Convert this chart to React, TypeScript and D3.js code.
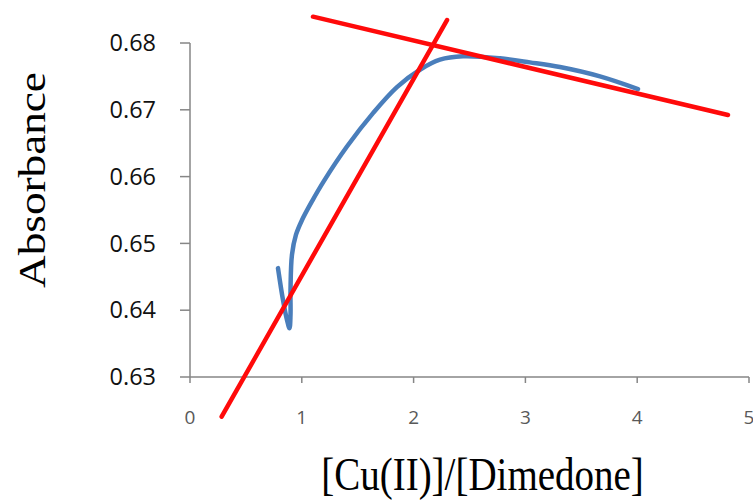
import React from "react";
import * as d3 from "d3";

const W = 753;
const H = 500;

const xTicks = [0, 1, 2, 3, 4, 5];
const yTicks = [0.63, 0.64, 0.65, 0.66, 0.67, 0.68];

// Blue measured curve: [Cu(II)]/[Dimedone] vs Absorbance
const curveX = [0.787, 0.832, 0.868, 0.89, 0.899, 0.899, 0.912, 0.948, 1.002, 1.091, 1.2, 1.404, 1.637, 1.851, 2.057, 2.236, 2.442, 2.773, 3.041, 3.309, 3.667, 4.007];
const curveY = [0.6463, 0.6415, 0.6385, 0.6373, 0.6393, 0.643, 0.6483, 0.6513, 0.6535, 0.6563, 0.6594, 0.6645, 0.6695, 0.6734, 0.676, 0.6775, 0.678, 0.6777, 0.6771, 0.6764, 0.675, 0.6731];

// Red tangent lines (endpoints)
const lineAX = [0.283, 2.299];
const lineAY = [0.62406, 0.68344];
const lineBX = [1.1, 4.812];
const lineBY = [0.68394, 0.66922];

export default function App() {
  const x = d3.scaleLinear().domain([0, 5]).range([190, 749]);
  const y = d3.scaleLinear().domain([0.63, 0.68]).range([377, 43]);

  const curvePts: [number, number][] = curveX.map((v, i) => [v, curveY[i]]);
  const lineGen = d3
    .line<[number, number]>()
    .x((d) => x(d[0]))
    .y((d) => y(d[1]))
    .curve(d3.curveCatmullRom.alpha(0.5));
  const straight = d3
    .line<[number, number]>()
    .x((d) => x(d[0]))
    .y((d) => y(d[1]));

  const lineA: [number, number][] = lineAX.map((v, i) => [v, lineAY[i]]);
  const lineB: [number, number][] = lineBX.map((v, i) => [v, lineBY[i]]);

  const axisColor = "#868686";

  return (
    <div style={{ position: "absolute", left: 0, top: 0 }}>
      <svg width={W} height={H} style={{ display: "block", background: "#fff" }}>
        {/* y axis */}
        <line x1={x(0)} x2={x(0)} y1={y(0.68)} y2={y(0.63)} stroke={axisColor} strokeWidth={1.5} />
        {yTicks.map((t) => (
          <g key={"y" + t}>
            <line x1={x(0) - 10} x2={x(0)} y1={y(t)} y2={y(t)} stroke={axisColor} strokeWidth={1.5} />
            <text
              x={156}
              y={y(t)}
              dy="0.35em"
              textAnchor="end"
              fontFamily="'Open Sans', sans-serif"
              fontSize={23.5}
              fill="#111"
            >
              {t.toFixed(2)}
            </text>
          </g>
        ))}
        {/* x axis */}
        <line x1={x(0)} x2={x(5)} y1={y(0.63)} y2={y(0.63)} stroke={axisColor} strokeWidth={1.5} />
        {xTicks.map((t) => (
          <g key={"x" + t}>
            <line x1={x(t)} x2={x(t)} y1={y(0.63)} y2={y(0.63) + 6} stroke={axisColor} strokeWidth={1.5} />
            <text
              x={x(t)}
              y={417}
              dy="0.35em"
              textAnchor="middle"
              fontFamily="'Open Sans', sans-serif"
              fontSize={19}
              fill="#595959"
            >
              {t}
            </text>
          </g>
        ))}
        {/* blue curve */}
        <path d={lineGen(curvePts) || ""} fill="none" stroke="#4A7EBB" strokeWidth={4.5} strokeLinecap="round" strokeLinejoin="round" />
        {/* red lines */}
        <path d={straight(lineA) || ""} fill="none" stroke="#FF0A0A" strokeWidth={4.5} strokeLinecap="round" />
        <path d={straight(lineB) || ""} fill="none" stroke="#FF0A0A" strokeWidth={4.5} strokeLinecap="round" />
        {/* axis titles */}
        <text
          transform="translate(45,180) rotate(-90) scale(1.19,1)"
          textAnchor="middle"
          fontFamily="'Liberation Serif', 'Times New Roman', serif"
          fontSize={38}
          fill="#000"
        >
          Absorbance
        </text>
        <text
          transform="translate(482.5,490) scale(1,1.2)"
          textAnchor="middle"
          fontFamily="'Liberation Serif', 'Times New Roman', serif"
          fontSize={39}
          fill="#000"
        >
          [Cu(II)]/[Dimedone]
        </text>
      </svg>
    </div>
  );
}
